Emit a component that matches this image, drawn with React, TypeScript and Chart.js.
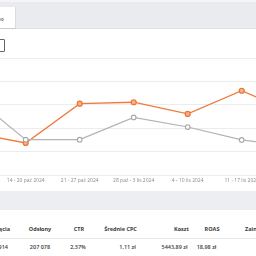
import React, { useEffect, useRef } from "react";
import { Chart, registerables } from "chart.js";

Chart.register(...registerables);

const weeks = [
  "7 - 13 paź 2024",
  "14 - 20 paź 2024",
  "21 - 27 paź 2024",
  "28 paź - 3 lis 2024",
  "4 - 10 lis 2024",
  "11 - 17 lis 2024",
  "18 - 24 lis 2024",
];
const seriesOrange = [1.81, 1.37, 3.05, 3.11, 2.61, 3.6, 2.6];
const seriesGray = [3.4, 1.51, 1.51, 2.46, 2.05, 1.5, 1.2];

const headers = ["Kliknięcia", "Odsłony", "CTR", "Średnie CPC", "Koszt", "ROAS", "Zainteresowania"];
const totals = ["4 914", "207 078", "2,37%", "1,11 zł", "5443,89 zł", "18,98 zł", ""];

const FONT = "'Open Sans', 'Noto Sans', sans-serif";

function LineChart() {
  const ref = useRef<HTMLCanvasElement | null>(null);
  useEffect(() => {
    if (!ref.current) return;
    const chart = new Chart(ref.current, {
      type: "line",
      data: {
        labels: weeks,
        datasets: [
          {
            data: seriesGray,
            borderColor: "#b3b3b3",
            backgroundColor: "#ffffff",
            pointBorderColor: "#a8a8a8",
            pointBackgroundColor: "#ffffff",
            borderWidth: 1.2,
            pointRadius: 2.3,
            pointBorderWidth: 1.1,
            tension: 0,
          },
          {
            data: seriesOrange,
            borderColor: "#ee7b3c",
            backgroundColor: "#ffffff",
            pointBorderColor: "#ec7535",
            pointBackgroundColor: "#f6b08a",
            borderWidth: 1.3,
            pointRadius: 2.5,
            pointBorderWidth: 1.2,
            tension: 0,
          },
        ],
      },
      options: {
        responsive: false,
        animation: false,
        layout: { padding: { left: 11.7, right: 10.3, top: 8, bottom: 3 } },
        plugins: { legend: { display: false }, tooltip: { enabled: false } },
        scales: {
          x: {
            grid: { display: false, drawTicks: false },
            border: { display: false },
            ticks: {
              autoSkip: false,
              maxRotation: 0,
              minRotation: 0,
              padding: 3,
              color: "#8a8a8a",
              font: { size: 5, family: FONT },
            },
            afterFit: (s: any) => {
              s.paddingLeft = 0;
              s.paddingRight = 0;
            },
          },
          y: {
            min: 0,
            max: 5,
            grid: { color: "#ececec", drawTicks: false, lineWidth: 1 },
            border: { display: false },
            ticks: { display: false, stepSize: 1 },
          },
        },
      },
    });
    return () => chart.destroy();
  }, []);
  return (
    <canvas
      ref={ref}
      width={346}
      height={140}
      style={{ position: "absolute", left: -40, top: 50, width: 346, height: 140 }}
    />
  );
}

const headerCenters = [null, 40, 79, 120.5, 181.5, 212, null];
const valueCenters = [null, 40, 78, 127.5, 174.5, 206.5, null];

export default function App() {
  const txt: React.CSSProperties = {
    position: "absolute",
    fontFamily: FONT,
    fontSize: 5.5,
    whiteSpace: "nowrap",
    lineHeight: "7px",
  };
  return (
    <div
      style={{
        position: "fixed",
        left: 0,
        top: 0,
        width: 256,
        height: 256,
        overflow: "hidden",
        background: "#ffffff",
      }}
    >
      <div style={{ position: "absolute", left: 0, top: 0, width: 256, height: 2, background: "#f4f5f6" }} />
      <div
        style={{
          position: "absolute",
          left: 0,
          top: 2,
          width: 256,
          height: 26,
          background: "#e9ebee",
          borderBottom: "1px solid #e0e2e5",
        }}
      />
      <div
        style={{
          position: "absolute",
          left: -30,
          top: 7,
          width: 45,
          height: 21,
          background: "#ffffff",
          borderRight: "1px solid #d9dbde",
          borderBottom: "1px solid #c9cbce",
        }}
      />
      <div style={{ ...txt, left: -10, top: 15.5, fontSize: 4.5, color: "#555", fontWeight: 600 }}>Wideo</div>
      <div
        style={{
          position: "absolute",
          left: -8,
          top: 39,
          width: 11,
          height: 11,
          border: "1px solid #666",
          borderRadius: 1,
          background: "#fff",
        }}
      />
      <LineChart />
      <div style={{ position: "absolute", left: 0, top: 191, width: 256, height: 19, background: "#eceef1" }} />
      <div style={{ position: "absolute", left: 0, top: 238, width: 256, height: 1, background: "#e6e6e6" }} />
      {headers.map((h, i) => {
        const c = headerCenters[i];
        const style: React.CSSProperties = { ...txt, top: 225.5, color: "#3a3a3a", fontWeight: 700 };
        if (i === 0) return <div key={h} style={{ ...style, right: 246 }}>{h}</div>;
        if (i === headers.length - 1) return <div key={h} style={{ ...style, left: 245 }}>{h}</div>;
        return <div key={h} style={{ ...style, left: c as number, transform: "translateX(-50%)" }}>{h}</div>;
      })}
      {totals.map((v, i) => {
        const c = valueCenters[i];
        const style: React.CSSProperties = { ...txt, top: 244, color: "#3a3a3a", fontWeight: 600 };
        if (i === 0) return <div key={"v" + i} style={{ ...style, right: 248 }}>{v}</div>;
        if (c === null) return null;
        return <div key={"v" + i} style={{ ...style, left: c, transform: "translateX(-50%)" }}>{v}</div>;
      })}
    </div>
  );
}
